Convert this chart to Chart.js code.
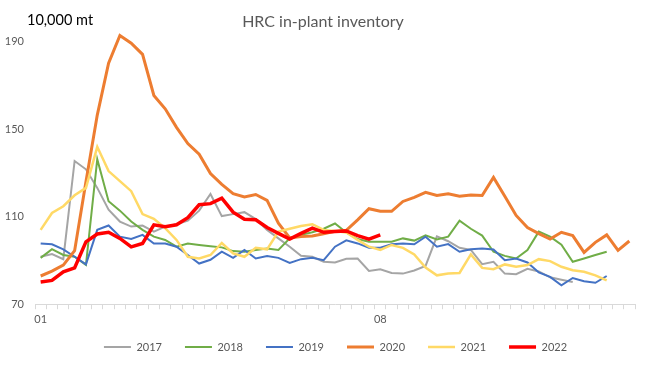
<!DOCTYPE html>
<html><head><meta charset="utf-8">
<script src="https://cdn.jsdelivr.net/npm/chart.js@4/dist/chart.umd.min.js"></script>
<style>html,body{margin:0;padding:0;background:#fff}</style>
</head><body>
<canvas id="c" width="647" height="372"></canvas>
<script>
const titleText = "HRC in-plant inventory";
const unitLabel = "10,000 mt";
const categories = ["01","","","","","","","","","","","","","","","","","","","","","","","","","","","","","","08","","","","","","","","","","","","","","","","","","","","","",""];
const yTicks = [70, 110, 150, 190];
const seriesNames = ["2017","2018","2019","2020","2021","2022"];
const seriesColors = ["#A5A5A5","#70AD47","#4472C4","#ED7D31","#FFD966","#FF0000"];
const seriesWidths = [2, 2, 2, 3, 2.5, 3.5];

const v2017 = [91.7,92.9,90.6,135.5,131.7,123.2,113.2,107.8,105.5,106,103.2,105.5,106.6,108.2,112.8,120.4,110.3,111.2,112.1,108.9,104,100.1,96.3,92.2,91.7,89.4,89.1,90.8,90.9,85.2,86,84.3,84,85.4,87.5,101,98.8,95.8,94.8,88.3,89.4,84,83.7,86.2,85,82.3,81.2,80.2];
const v2018 = [91.2,95.2,92.5,91.7,88,136.3,117.1,112.8,107.8,104,100.9,99.4,96.3,97.8,97.1,96.5,96,94.3,94,94.8,95.5,94.8,100.1,101.7,102.9,104.5,106.9,102.8,99.8,98.6,98.6,98.6,100.1,99.1,101.5,99.6,100.9,108.2,104.5,101.4,94,92.1,90.9,94.8,103.2,100.9,97.2,89.4,90.9,92.5,94];
const v2019 = [97.8,97.4,95.1,91.7,88.2,104,106,100.9,99.8,101.7,97.8,97.8,96.3,92.5,88.6,90.3,94,91.2,94.8,90.9,92,91.2,88.9,90.6,91.2,90.1,96.3,99.2,97.8,95.8,95.8,97.4,97.8,97.4,100.9,96.3,97.5,94,95.1,95.5,95,90.1,90.9,89.1,84.5,82.5,78.6,82,80.5,79.8,82.9];
const v2020 = [82.9,85.1,87.9,94.5,126,156.5,180.2,192.9,189.4,184.3,165.5,159.4,150.9,143.5,138.6,129.8,124.8,120.6,119.1,120.2,117.5,107.1,100.3,101,101.2,102.2,103.3,103.8,108.6,113.7,112.5,112.5,117,118.9,121.2,119.7,120.5,119.4,120,119.7,128,119.4,110.6,105.1,102.3,99.8,102.9,101.4,93.7,98.3,101.7,94.6,98.9];
const v2021 = [104,111.7,114.8,119.8,123.2,142,130.9,126.3,121.7,111.2,109.1,104.8,99.4,91.7,90.9,92.5,98,93.2,91.7,95.8,95.1,103.2,104.5,105.8,106.6,104,103.5,102.8,99.4,96.3,94.8,97.1,95.8,92.8,86.8,83.2,84,84.3,92.8,86.6,86,88.2,87.1,87.9,90.6,89.7,87.1,85.5,84.8,83.2,80.9];
const v2022 = [80.2,80.9,84.8,86.6,98.5,102.1,102.9,100.1,96.2,97.8,106.3,105.4,106.3,109.6,115.5,116,118.5,112.1,108.9,108.6,105.1,102.4,99.8,102.4,104.8,102.9,103.2,103.5,101.4,99.8,101.7];
const seriesValues = [v2017, v2018, v2019, v2020, v2021, v2022];

const FONT = "Lato";

const textPlugin = {
  id: 'txt',
  afterLayout(chart) {
    const lg = chart.legend;
    if (lg) { lg.left += 18; lg.right += 18; lg.top -= 7.6; lg.bottom -= 7.6; }
  },
  afterDraw(chart) {
    const c = chart.ctx;
    c.save();
    c.textBaseline = 'alphabetic';
    c.fillStyle = '#000000';
    c.font = '14.5px ' + FONT;
    c.textAlign = 'left';
    c.fillText(unitLabel, 27, 25);
    c.fillStyle = '#595959';
    c.font = '16px ' + FONT;
    c.textAlign = 'center';
    c.fillText(titleText, 323, 27);
    c.restore();
  }
};

const datasets = seriesNames.map((n, i) => ({
  label: n,
  data: seriesValues[i],
  borderColor: seriesColors[i],
  backgroundColor: seriesColors[i],
  borderWidth: seriesWidths[i],
  pointRadius: 0,
  tension: 0,
  fill: false,
  order: seriesNames.length - 1 - i
}));

new Chart(document.getElementById('c'), {
  type: 'line',
  data: { labels: categories, datasets },
  options: {
    responsive: false,
    animation: false,
    layout: { padding: { left: 0, right: 12, top: 20, bottom: 1.8 } },
    plugins: {
      legend: {
        position: 'bottom',
        labels: {
          usePointStyle: true,
          pointStyle: 'line',
          pointStyleWidth: 27,
          padding: 23,
          color: '#595959',
          font: { family: FONT, size: 11 },
          sort: (a, b) => a.datasetIndex - b.datasetIndex
        }
      },
      tooltip: { enabled: false }
    },
    scales: {
      x: {
        offset: true,
        afterFit: s => { s.height = 22; },
        grid: { offset: true, drawOnChartArea: false, drawTicks: true, tickLength: 5, color: '#d9d9d9' },
        border: { color: '#d9d9d9', width: 1 },
        ticks: { autoSkip: false, maxRotation: 0, color: '#595959', padding: 4, font: { family: FONT, size: 11 } }
      },
      y: {
        min: 70, max: 200,
        afterFit: s => { s.width = 35; },
        afterBuildTicks: a => { a.ticks = yTicks.map(v => ({ value: v })); },
        grid: { display: false },
        border: { display: false },
        ticks: { color: '#595959', padding: 3, font: { family: FONT, size: 11 } }
      }
    }
  },
  plugins: [textPlugin]
});
</script>
</body></html>
